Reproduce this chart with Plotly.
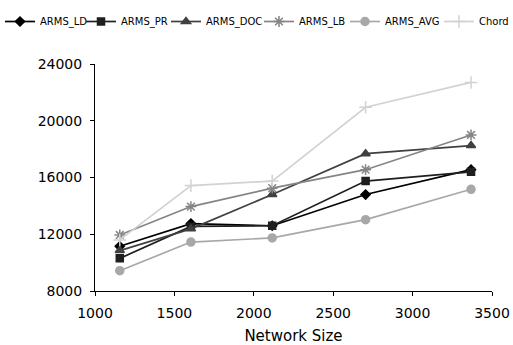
import plotly.graph_objects as go

network_size = [1156, 1604, 2116, 2704, 3368]

arms_ld = [11150, 12750, 12600, 14800, 16550]
arms_pr = [10300, 12550, 12600, 15750, 16400]
arms_doc = [10850, 12380, 14800, 17680, 18250]
arms_lb = [11950, 13950, 15250, 16550, 19000]
arms_avg = [9430, 11450, 11740, 13030, 15170]
chord = [11600, 15430, 15750, 20950, 22700]

y_ticks = [8000, 12000, 16000, 20000, 24000]
x_ticks = [1000, 1500, 2000, 2500, 3000, 3500]

series = [
    ("ARMS_LD", arms_ld, "#000000", "diamond", 7),
    ("ARMS_PR", arms_pr, "#1f1f1f", "square", 7),
    ("ARMS_DOC", arms_doc, "#404040", "triangle-up", 8),
    ("ARMS_LB", arms_lb, "#858585", "asterisk-open", 9),
    ("ARMS_AVG", arms_avg, "#a8a8a8", "circle", 8),
    ("Chord", chord, "#d2d2d2", "cross-thin-open", 9),
]

# legend entry origins (px from left of the page), one legend per series
legend_x_px = [-5, 81, 166, 259, 345, 439]

W, H = 513, 345
fig = go.Figure()
layout_legends = {}
for i, (name, vals, color, sym, sz) in enumerate(series):
    key = "legend" if i == 0 else f"legend{i + 1}"
    fig.add_trace(go.Scatter(
        x=network_size, y=vals, name=name, mode="lines+markers",
        line=dict(color=color, width=1.7),
        marker=dict(symbol=sym, size=sz, color=color,
                    line=dict(color=color, width=1.5)),
        legend=key,
    ))
    layout_legends[key] = dict(
        orientation="h", xref="container", yref="container",
        x=legend_x_px[i] / W, y=1 - 21.5 / H, xanchor="left", yanchor="middle",
        font=dict(size=10, family="DejaVu Sans", color="#000000"),
        itemwidth=30, bgcolor="rgba(0,0,0,0)", borderwidth=0,
    )

fig.update_layout(
    width=W, height=H,
    margin=dict(l=95, r=21, t=64, b=54, autoexpand=False),
    paper_bgcolor="white", plot_bgcolor="white",
    font=dict(family="DejaVu Sans", color="#000000", size=14),
    showlegend=True,
    xaxis=dict(range=[1000, 3500], tickvals=x_ticks, ticktext=[str(v) for v in x_ticks],
               showgrid=False, zeroline=False, showline=True, linecolor="#000000",
               linewidth=1, ticks="outside", ticklen=4, tickcolor="#000000",
               ticklabelstandoff=5, tickfont=dict(size=14),
               title=dict(text="Network Size", font=dict(size=15), standoff=12)),
    yaxis=dict(range=[8000, 24000], tickvals=y_ticks, ticktext=[str(v) for v in y_ticks],
               showgrid=False, zeroline=False, showline=True, linecolor="#000000",
               linewidth=1, ticks="outside", ticklen=4, tickcolor="#000000",
               ticklabelstandoff=5, tickfont=dict(size=14)),
    **layout_legends,
)

fig.write_html("out.html")
